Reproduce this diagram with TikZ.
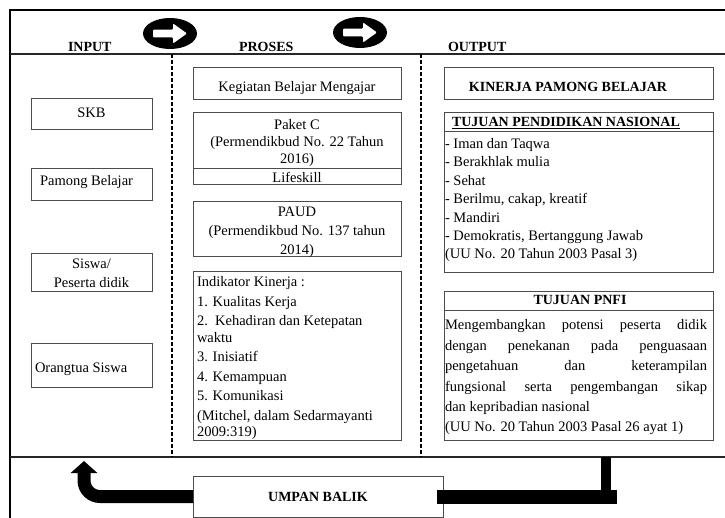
\documentclass[tikz,border=0pt]{standalone}
\usepackage{fontspec}
\setmainfont{Liberation Serif}
\usetikzlibrary{arrows.meta}
\tikzset{
  bx/.style={draw=black!70, line width=0.8pt, inner sep=0pt, outer sep=0pt, anchor=north west},
  tx/.style={inner sep=0pt, outer sep=0pt, font=\fontsize{14.5}{17}\selectfont},
  bftx/.style={inner sep=0pt, outer sep=0pt, font=\fontsize{14}{17}\selectfont\bfseries},
  dashln/.style={line width=1.8pt, dash pattern=on 4pt off 2pt},
  frameln/.style={line width=2.2pt},
  sepln/.style={line width=1.2pt, draw=black!85},
  fbline/.style={line width=13pt},
}
\begin{document}
\begin{tikzpicture}[x=1pt,y=-1pt]
\useasboundingbox (0,0) rectangle (725,518);
% frame
\draw[frameln] (9,10) -- (725,10);
\draw[frameln] (10,9) -- (10,518);
\draw[sepln] (10,54) -- (725,54);
\draw[sepln] (10,457) -- (725,457);
\draw[dashln] (172,54) -- (172,457);
\draw[dashln] (421,54) -- (421,457);
% headers
\node[bftx, anchor=base west] (hin) at (68,52) {INPUT};
\node[bftx, anchor=base west] (hpr) at (239,52) {PROSES};
\node[bftx, anchor=base west] (hout) at (448,52) {OUTPUT};
% arrow icons
\begin{scope}[shift={(170,33.5)}]
  \fill (0,0) ellipse [x radius=27pt, y radius=15.5pt];
  \fill[white, rounded corners=1pt] (-17,-3.8) -- (3,-3.8) -- (3,-10) -- (17,0) -- (3,10) -- (3,3.8) -- (-17,3.8) -- cycle;
\end{scope}
\begin{scope}[shift={(360,32.5)}]
  \fill (0,0) ellipse [x radius=27pt, y radius=15.5pt];
  \fill[white, rounded corners=1pt] (-17,-3.8) -- (3,-3.8) -- (3,-10) -- (17,0) -- (3,10) -- (3,3.8) -- (-17,3.8) -- cycle;
\end{scope}
% INPUT column
\node[bx, minimum width=121pt, minimum height=31pt] (skb) at (31,98) {};
\node[tx, anchor=base] (skbt) at (91.5,118) {SKB};
\node[bx, minimum width=121pt, minimum height=32pt] (pamong) at (31,168) {};
\node[tx, anchor=base west] (pamongt) at (40,185.5) {Pamong Belajar};
\node[bx, minimum width=121pt, minimum height=38pt] (siswa) at (31,253) {};
\node[tx, anchor=north, align=center, font=\fontsize{14.5}{19}\selectfont] (siswat) at (91.5,255.7) {\strut Siswa/\\\strut Peserta didik};
\node[bx, minimum width=121pt, minimum height=44pt] (ortu) at (31,343) {};
\node[tx, anchor=base west] (ortut) at (35,372) {Orangtua Siswa};
% PROSES column
\node[bx, minimum width=208pt, minimum height=32pt] (keg) at (193,67) {};
\node[tx, anchor=base] (kegt) at (297,92) {Kegiatan Belajar Mengajar};
\node[bx, minimum width=208pt, minimum height=56pt] (paket) at (193,112) {};
\node[bx, minimum width=208pt, minimum height=16pt] (life) at (193,168) {};
\node[tx, anchor=north, align=center, font=\fontsize{14.5}{17}\selectfont] (pakett) at (297,118.1) {\strut Paket C\\\strut (Permendikbud No. 22 Tahun\\\strut 2016)};
\node[tx, anchor=base] (lifet) at (297,182.5) {Lifeskill};
\node[bx, minimum width=208pt, minimum height=55pt] (paud) at (193,201) {};
\node[tx, anchor=north, align=center, font=\fontsize{14.5}{19}\selectfont] (paudt) at (297,203.2) {\strut PAUD\\\strut (Permendikbud No. 137 tahun\\\strut 2014)};
\node[bx, minimum width=208pt, minimum height=169pt] (indik) at (193,271) {};
\node[tx, anchor=north west, align=left, font=\fontsize{14.5}{16.5}\selectfont] (indikt) at (197,274.95) {\strut Indikator Kinerja :\\[3pt]\strut 1. Kualitas Kerja\\[3pt]\strut 2.\ \ Kehadiran dan Ketepatan\\\strut waktu\\[3pt]\strut 3. Inisiatif\\[3pt]\strut 4. Kemampuan\\[3pt]\strut 5. Komunikasi\\[3pt]\strut (Mitchel, dalam Sedarmayanti\\\strut 2009:319)};
% OUTPUT column
\node[bx, minimum width=269pt, minimum height=32pt] (kin) at (444,67) {};
\node[bftx, anchor=base] (kint) at (568,91.5) {KINERJA PAMONG BELAJAR};
\node[bx, minimum width=269pt, minimum height=19pt] (pndh) at (444,112) {};
\node[bftx, anchor=base west] (pndht) at (452,127) {\underline{TUJUAN PENDIDIKAN NASIONAL}};
\node[bx, minimum width=269pt, minimum height=141pt] (pnd) at (444,131) {};
\node[tx, anchor=north west, align=left, font=\fontsize{14.5}{18.4}\selectfont] (pndt) at (445,135.6) {\strut - Iman dan Taqwa\\\strut - Berakhlak mulia\\\strut - Sehat\\\strut - Berilmu, cakap, kreatif\\\strut - Mandiri\\\strut - Demokratis, Bertanggung Jawab\\\strut (UU No. 20 Tahun 2003 Pasal 3)};
\node[bx, minimum width=269pt, minimum height=19pt] (pnfih) at (444,291) {};
\node[bftx, anchor=base] (pnfiht) at (580,305) {TUJUAN PNFI};
\node[bx, minimum width=269pt, minimum height=130pt] (pnfi) at (444,310) {};
\node[tx, anchor=north west, align=left, font=\fontsize{14.5}{20.4}\selectfont] (pnfit) at (445,315.7) {\strut\makebox[262pt][s]{Mengembangkan potensi peserta didik}\\\strut\makebox[262pt][s]{dengan penekanan pada penguasaan}\\\strut\makebox[262pt][s]{pengetahuan dan keterampilan}\\\strut\makebox[262pt][s]{fungsional serta pengembangan sikap}\\\strut dan kepribadian nasional\\\strut (UU No. 20 Tahun 2003 Pasal 26 ayat 1)};
% feedback
\node[bx, minimum width=250pt, minimum height=41pt, font=\fontsize{14}{17}\selectfont\bfseries] (umpan) at (193,476) {UMPAN BALIK};
\coordinate (fbtip) at (84,461);
\coordinate (fbjoin) at (606,457);
\draw[fbline, rounded corners=16pt, -{Triangle[width=26pt,length=12pt]}] (umpan.west) -| (fbtip);
\draw[line width=14pt] ([xshift=-6pt]umpan.east) -- ++(180,0);
\draw[line width=10pt] (fbjoin) -- (606,502);
\end{tikzpicture}
\end{document}
